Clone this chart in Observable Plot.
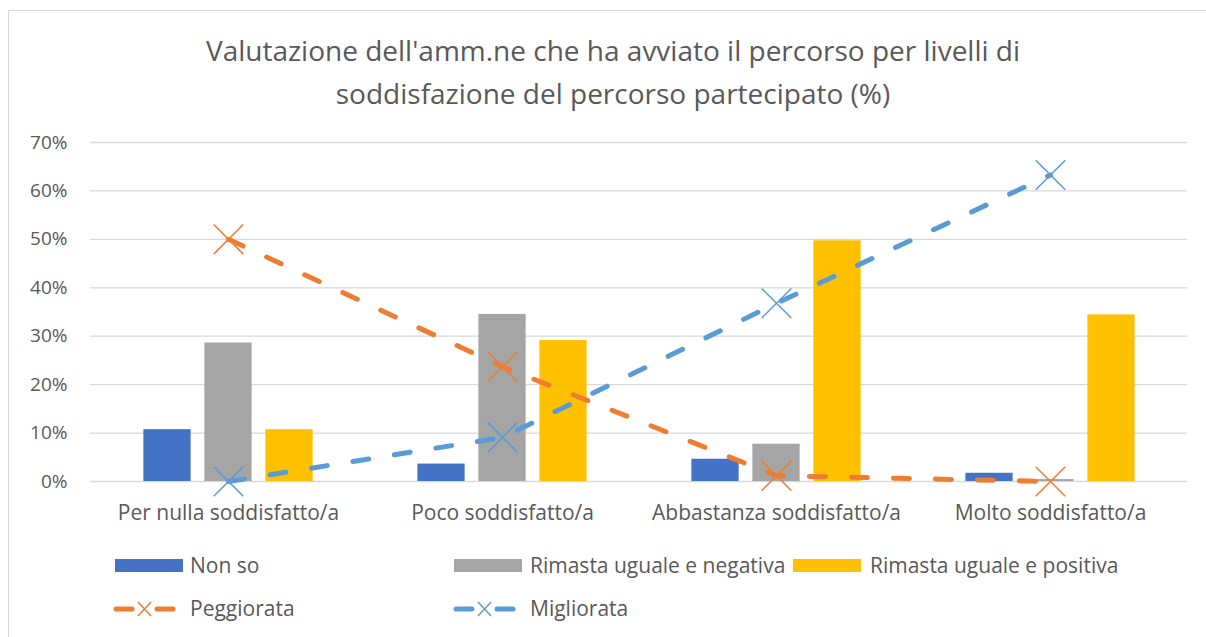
<!DOCTYPE html>
<html>
<head>
<meta charset="utf-8">
<script src="https://cdn.jsdelivr.net/npm/d3@7"></script>
<script src="https://cdn.jsdelivr.net/npm/@observablehq/plot@0.6"></script>
<style>
  html, body { margin: 0; padding: 0; background: #fff; overflow: hidden; }
  body { width: 1206px; height: 637px; position: relative; font-family: "Open Sans", "Noto Sans", sans-serif; color: #595959; }
  #frame { position: absolute; left: 8px; top: 10px; width: 1400px; height: 800px;
           border-left: 1px solid #d9d9d9; border-top: 1px solid #d9d9d9; }
  #chart { position: absolute; left: 0; top: 0; }
  #title { position: absolute; left: 0; top: 29px; width: 1226px; text-align: center;
           font-size: 28px; line-height: 43px; white-space: nowrap; }
  .sw { position: absolute; width: 68px; height: 13px; }
  .lbl { position: absolute; font-size: 21px; line-height: 21px; white-space: nowrap; }
  .icon { position: absolute; }
</style>
</head>
<body>
<div id="frame"></div>
<div id="chart"></div>
<div id="title">Valutazione dell'amm.ne che ha avviato il percorso per livelli di<br>soddisfazione del percorso partecipato (%)</div>
<div id="legend"></div>
<script>
// ---- data ----
const categories = ["Per nulla soddisfatto/a", "Poco soddisfatto/a", "Abbastanza soddisfatto/a", "Molto soddisfatto/a"];
const nonSo      = [10.7, 3.6, 4.6, 1.7];
const negativa   = [28.6, 34.5, 7.7, 0.4];
const positiva   = [10.7, 29.1, 49.7, 34.4];
const peggiorata = [50.0, 23.7, 1.2, 0.0];
const migliorata = [0.0, 9.1, 36.8, 63.3];
const yTicks     = [0, 10, 20, 30, 40, 50, 60, 70];
const seriesNames = ["Non so", "Rimasta uguale e negativa", "Rimasta uguale e positiva", "Peggiorata", "Migliorata"];
const colors = {nonSo: "#4472C4", negativa: "#A5A5A5", positiva: "#FFC000", peggiorata: "#ED7D31", migliorata: "#5B9BD5"};

const rows = categories.map((c, i) => ({
  cat: c, nonSo: nonSo[i], negativa: negativa[i], positiva: positiva[i],
  peggiorata: peggiorata[i], migliorata: migliorata[i]
}));

// ---- layout / style ----
const W = 1206, H = 540;
const mL = 90, mR = 19, mT = 142, mB = 59;
const band = (W - mL - mR) / categories.length;
const barW = 47.5, step = 61;
const side = (band - barW) / 2;
function barInset(offset) { return {insetLeft: side + offset, insetRight: side - offset}; }
const dash = "16,26";

const chart = Plot.plot({
  width: W, height: H,
  marginLeft: mL, marginRight: mR, marginTop: mT, marginBottom: mB,
  style: {fontFamily: "'Open Sans', 'Noto Sans', sans-serif", fontSize: "19px", color: "#595959", background: "transparent"},
  x: {domain: categories, padding: 0, label: null},
  y: {domain: [0, 70], label: null},
  marks: [
    Plot.gridY(yTicks, {stroke: "#D9D9D9", strokeOpacity: 1, strokeWidth: 1.3}),
    Plot.barY(rows, {x: "cat", y: "nonSo", fill: colors.nonSo, ...barInset(-step)}),
    Plot.barY(rows, {x: "cat", y: "negativa", fill: colors.negativa, ...barInset(0)}),
    Plot.barY(rows, {x: "cat", y: "positiva", fill: colors.positiva, ...barInset(step)}),
    Plot.line(rows, {x: "cat", y: "peggiorata", stroke: colors.peggiorata, strokeWidth: 5, strokeDasharray: dash, strokeLinecap: "round"}),
    Plot.dot(rows, {x: "cat", y: "peggiorata", symbol: "times", r: 13.5, stroke: colors.peggiorata, strokeWidth: 1.5}),
    Plot.line(rows, {x: "cat", y: "migliorata", stroke: colors.migliorata, strokeWidth: 5, strokeDasharray: dash, strokeLinecap: "round"}),
    Plot.dot(rows, {x: "cat", y: "migliorata", symbol: "times", r: 13.5, stroke: colors.migliorata, strokeWidth: 1.5}),
    Plot.axisY(yTicks, {tickSize: 0, tickPadding: 23, tickFormat: d => d + "%", fontSize: 19, label: null}),
    Plot.axisX({tickSize: 0, tickPadding: 24, fontSize: 21, label: null})
  ]
});
document.getElementById("chart").appendChild(chart);

// ---- legend ----
const legend = document.getElementById("legend");
function swatch(left, top, color, text, textLeft) {
  const s = document.createElement("div");
  s.className = "sw"; s.style.left = left + "px"; s.style.top = top + "px"; s.style.background = color;
  legend.appendChild(s);
  const t = document.createElement("div");
  t.className = "lbl"; t.style.left = textLeft + "px"; t.style.top = (top - 4) + "px"; t.textContent = text;
  legend.appendChild(t);
}
function lineIcon(left, top, color, text, textLeft) {
  const ns = "http://www.w3.org/2000/svg";
  const svg = document.createElementNS(ns, "svg");
  svg.setAttribute("width", 70); svg.setAttribute("height", 20);
  svg.setAttribute("class", "icon");
  svg.style.left = left + "px"; svg.style.top = top + "px";
  svg.innerHTML =
    `<line x1="3" y1="10" x2="19" y2="10" stroke="${color}" stroke-width="5" stroke-linecap="round"/>` +
    `<line x1="44" y1="10" x2="60" y2="10" stroke="${color}" stroke-width="5" stroke-linecap="round"/>` +
    `<path d="M25,3L38,17M25,17L38,3" stroke="${color}" stroke-width="1.5" fill="none"/>`;
  legend.appendChild(svg);
  const t = document.createElement("div");
  t.className = "lbl"; t.style.left = textLeft + "px"; t.style.top = (top - 1) + "px"; t.textContent = text;
  legend.appendChild(t);
}
swatch(115, 559, colors.nonSo, seriesNames[0], 190);
swatch(454, 559, colors.negativa, seriesNames[1], 530);
swatch(793, 559, colors.positiva, seriesNames[2], 870);
lineIcon(113, 599, colors.peggiorata, seriesNames[3], 190);
lineIcon(453, 599, colors.migliorata, seriesNames[4], 530);
</script>
</body>
</html>
